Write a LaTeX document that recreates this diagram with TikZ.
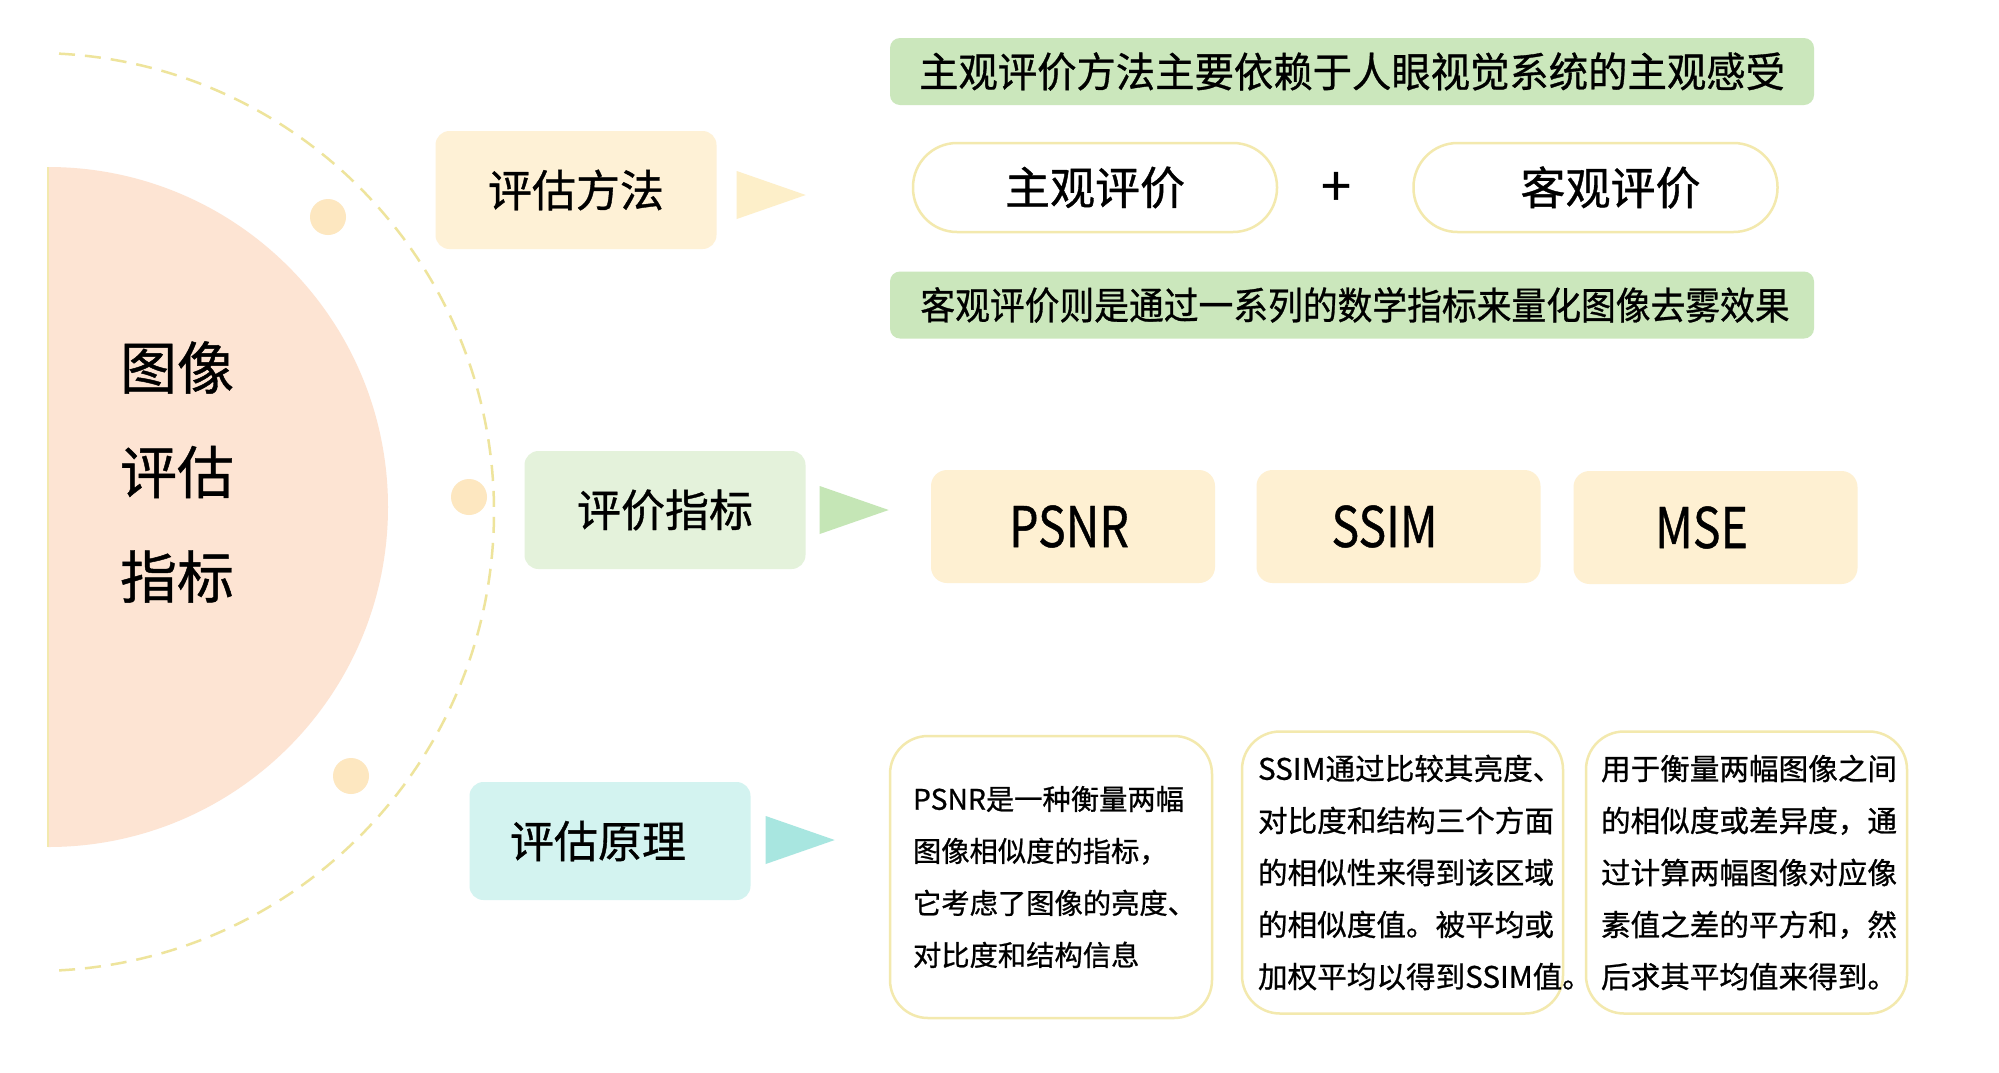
\documentclass[tikz,border=0pt]{standalone}
\usepackage{fontspec}
\setmainfont{Noto Sans CJK SC}[FakeBold=0.8]
\usetikzlibrary{calc}
\definecolor{peach}{HTML}{FDE4D3}
\definecolor{dashy}{HTML}{EEE49C}
\definecolor{dotc}{HTML}{FDE7C0}
\definecolor{boxo}{HTML}{FEF1D6}
\definecolor{trio}{HTML}{FDEFC9}
\definecolor{boxg}{HTML}{E4F2DB}
\definecolor{trig}{HTML}{C5E6B6}
\definecolor{boxc}{HTML}{D3F3F0}
\definecolor{tric}{HTML}{A8E6E0}
\definecolor{barg}{HTML}{CBE7BC}
\definecolor{metric}{HTML}{FEF0D2}
\definecolor{rim}{HTML}{F3E9AE}
\newcommand\fsz[2]{\fontsize{#1}{#2}\selectfont}
\newcommand\narrow[2]{\scalebox{#1}[1]{#2}}
\begin{document}
\begin{tikzpicture}[x=1pt,y=-1pt,
  catbox/.style={rounded corners=14pt, minimum width=281pt, minimum height=118pt, inner sep=0pt, font=\fsz{44}{52}},
  bar/.style={fill=barg, rounded corners=10pt, minimum width=924pt, minimum height=67pt, inner sep=0pt},
  pill/.style={draw=rim, line width=2.5pt, fill=white, rounded corners=44pt, minimum width=364pt, minimum height=89pt, inner sep=0pt, font=\fsz{45}{52}},
  metricbox/.style={fill=metric, rounded corners=16pt, minimum width=284pt, minimum height=113pt, inner sep=0pt, font=\fsz{56}{60}},
  textbox/.style={draw=rim, line width=2.5pt, fill=white, rounded corners=38pt, minimum width=321pt, minimum height=282pt, inner ysep=0pt, align=left}
]
\useasboundingbox (0,0) rectangle (1999,1072);
\fill[white] (0,0) rectangle (1999,1072);

% left half disc
\fill[peach] (48,167) arc[start angle=-90, end angle=90, radius=340] -- cycle;
\draw[rim, line width=2pt] (48,167) -- (48,847);
% dashed arc
\draw[dashy, line width=2.5pt, dash pattern=on 16pt off 10pt] ($(35,512)+(-87:459)$) arc[start angle=-87, end angle=88, radius=459];
% dots
\fill[dotc] (328,217) circle (18);
\fill[dotc] (469,497) circle (18);
\fill[dotc] (351,776) circle (18);

\node[align=center, font=\fsz{57}{104.5}] (title) at (177,472) {图像\\评估\\指标};

% category boxes
\node[catbox, fill=boxo] (m1) at (576,190) {评估方法};
\node[catbox, fill=boxg] (m2) at (665,510) {评价指标};
\node[catbox, fill=boxc] (m3) at (610,841) {\hspace*{-24pt}评估原理};

\fill[trio] ($(m1.east)+(20,-19)$) -- ++(69,24) -- ++(-69,24) -- cycle;
\fill[trig] ($(m2.east)+(14,-24)$) -- ++(69,24) -- ++(-69,24) -- cycle;
\fill[tric] ($(m3.east)+(15,-25)$) -- ++(69,24) -- ++(-69,24) -- cycle;

% top right
\node[bar, font=\fsz{41}{48}] (bar1) at (1352,71.5) {\narrow{0.96}{主观评价方法主要依赖于人眼视觉系统的主观感受}};
\node[pill] (p1) at (1095,187.5) {主观评价};
\node[font=\fsz{54}{60}] (plus) at (1336,189) {+};
\node[pill] (p2) at (1595.5,187.5) {\hspace*{30pt}客观评价};
\node[bar, font=\fsz{38}{44}] (bar2) at (1352,305) {\hspace*{6pt}\narrow{0.915}{客观评价则是通过一系列的数学指标来量化图像去雾效果}};

% metrics
\node[metricbox] (psnr) at (1073,526.5) {\hspace*{-8pt}\narrow{0.83}{PSNR}};
\node[metricbox] (ssim) at (1398.5,526.5) {\hspace*{-28pt}\narrow{0.83}{SSIM}};
\node[metricbox] (mse) at (1715.5,527.5) {\hspace*{-28pt}\narrow{0.83}{MSE}};

% principle boxes
\node[textbox, inner xsep=23pt, text width=276pt, font=\fsz{28.3}{52}] (t1) at (1051,877) {PSNR是一种衡量两幅\\图像相似度的指标，\\它考虑了图像的亮度、\\对比度和结构信息};
\node[textbox, inner xsep=16pt, text width=289pt, font=\fsz{29.6}{52}] (t2) at (1402.5,872.5) {SSIM通过比较其亮度、\\对比度和结构三个方面\\的相似性来得到该区域\\的相似度值。被平均或\\加权平均以得到SSIM值。};
\node[textbox, inner xsep=15pt, text width=291pt, font=\fsz{29.6}{52}] (t3) at (1746.5,872.5) {用于衡量两幅图像之间\\的相似度或差异度，通\\过计算两幅图像对应像\\素值之差的平方和，然\\后求其平均值来得到。};
\end{tikzpicture}
\end{document}
